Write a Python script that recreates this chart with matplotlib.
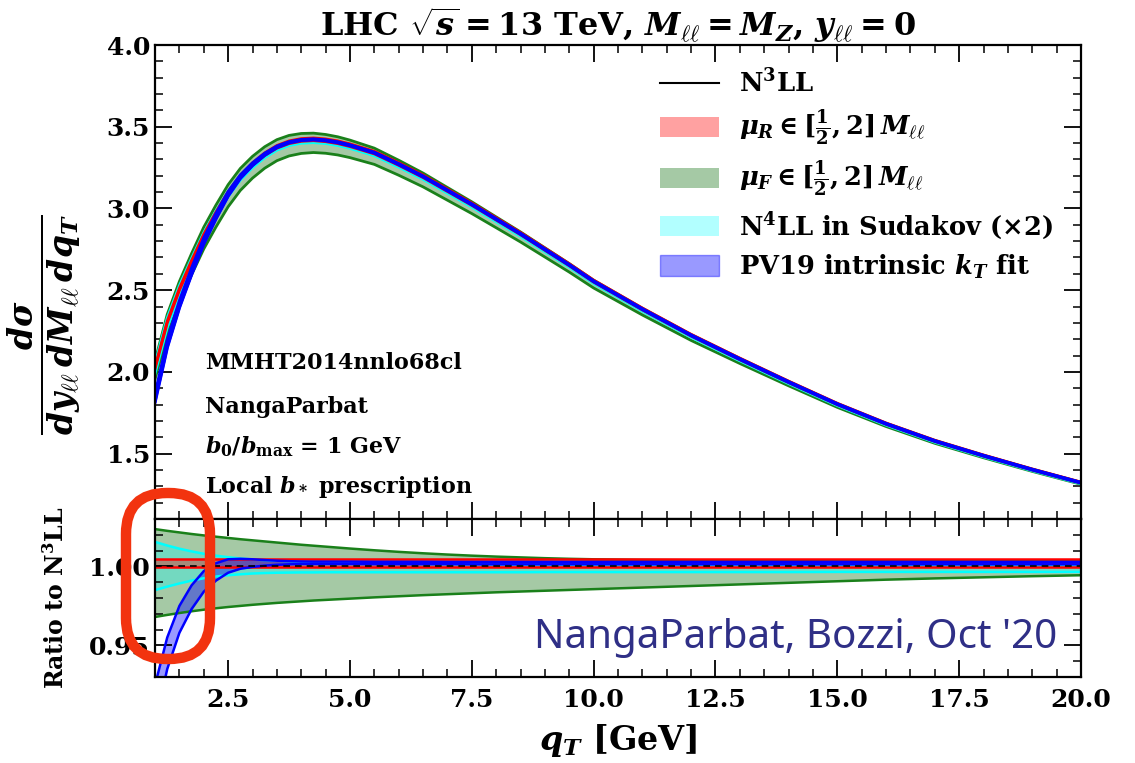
import numpy as np
import matplotlib
matplotlib.use("Agg")
import matplotlib.pyplot as plt
from matplotlib.ticker import MultipleLocator, FormatStrFormatter
from matplotlib.lines import Line2D
from matplotlib.patches import Patch, FancyBboxPatch

plt.rcParams['font.family'] = 'DejaVu Serif'
plt.rcParams['font.weight'] = 'bold'
plt.rcParams['axes.labelweight'] = 'bold'
plt.rcParams['axes.titleweight'] = 'bold'
plt.rcParams['mathtext.fontset'] = 'custom'
plt.rcParams['mathtext.rm'] = 'DejaVu Serif:bold'
plt.rcParams['mathtext.it'] = 'DejaVu Serif:italic:bold'
plt.rcParams['mathtext.bf'] = 'DejaVu Serif:bold'

# qT grid [GeV]
qt = [1.0, 1.25, 1.5, 1.75, 2.0, 2.25, 2.5, 2.75, 3.0, 3.25, 3.5, 3.75, 4.0, 4.25, 4.5, 4.75, 5.0,
      5.5, 6.0, 6.5, 7.0, 7.5, 8.0, 8.5, 9.0, 9.5, 10.0, 10.5, 11.0, 11.5, 12.0,
      13.0, 14.0, 15.0, 16.0, 17.0, 18.0, 19.0, 20.0]

# central N3LL cross section
n3ll = [2.02, 2.30, 2.50, 2.67, 2.83, 2.965, 3.09, 3.19, 3.265, 3.325, 3.37, 3.398, 3.412, 3.416, 3.41, 3.398, 3.38,
        3.335, 3.265, 3.19, 3.105, 3.02, 2.93, 2.84, 2.745, 2.65, 2.55, 2.465, 2.38, 2.30, 2.22,
        2.075, 1.935, 1.80, 1.68, 1.575, 1.485, 1.40, 1.32]

# ratios to N3LL: band edges
muR_up = [1.0045] * len(qt)
muR_lo = [0.9996] * len(qt)

muF_up = [1.0236, 1.0225, 1.0215, 1.0205, 1.0196, 1.0188, 1.018, 1.0172, 1.0165, 1.0158, 1.0151, 1.0144, 1.0137, 1.0131, 1.0125, 1.0119, 1.0113,
          1.0102, 1.0092, 1.0083, 1.0075, 1.0068, 1.0062, 1.0057, 1.0052, 1.0048, 1.0045, 1.0043, 1.0041, 1.004, 1.0039,
          1.0038, 1.0038, 1.0037, 1.0037, 1.0037, 1.0037, 1.0037, 1.0037]
muF_lo = [0.968, 0.9693, 0.9705, 0.9716, 0.9726, 0.9735, 0.9743, 0.975, 0.9757, 0.9763, 0.9769, 0.9774, 0.9779, 0.9784, 0.9788, 0.9792, 0.9796,
          0.9804, 0.9811, 0.9818, 0.9824, 0.983, 0.9836, 0.9841, 0.9846, 0.9851, 0.9856, 0.9861, 0.9866, 0.9871, 0.9876,
          0.9886, 0.9896, 0.9906, 0.9916, 0.9924, 0.9931, 0.9938, 0.9944]

n4ll_up = [1.0155, 1.0132, 1.0112, 1.0095, 1.008, 1.0068, 1.0058, 1.005, 1.0044, 1.004, 1.0036, 1.0033, 1.003, 1.0028, 1.0026, 1.0024, 1.0022,
           1.002, 1.0018, 1.0016, 1.0014, 1.0013, 1.0012, 1.0011, 1.001, 1.0009, 1.0008, 1.0008, 1.0007, 1.0007, 1.0006,
           1.0006, 1.0005, 1.0005, 1.0005, 1.0005, 1.0005, 1.0005, 1.0005]
n4ll_lo = [0.985, 0.9872, 0.9892, 0.991, 0.9925, 0.9936, 0.9944, 0.995, 0.9955, 0.9958, 0.996, 0.9961, 0.9962, 0.9962, 0.9963, 0.9963, 0.9963,
           0.9963, 0.9963, 0.9963, 0.9963, 0.9963, 0.9963, 0.9963, 0.9964, 0.9964, 0.9964, 0.9964, 0.9964, 0.9964, 0.9964,
           0.9964, 0.9964, 0.9965, 0.9965, 0.9965, 0.9965, 0.9965, 0.9965]

pv19_up = [0.925, 0.955, 0.975, 0.988, 0.997, 1.002, 1.0045, 1.0048, 1.0045, 1.004, 1.0036, 1.0033, 1.0031, 1.003, 1.003, 1.003, 1.003,
           1.0029, 1.0029, 1.0029, 1.0028, 1.0028, 1.0028, 1.0028, 1.0028, 1.0028, 1.0028, 1.0028, 1.0028, 1.0028, 1.0028,
           1.0028, 1.0028, 1.0028, 1.0028, 1.0028, 1.0028, 1.0028, 1.0028]
pv19_lo = [0.900, 0.935, 0.958, 0.973, 0.984, 0.991, 0.996, 0.9985, 0.9997, 1.0005, 1.001, 1.0013, 1.0015, 1.0015, 1.0015, 1.0015, 1.0015,
           1.0014, 1.0014, 1.0014, 1.0014, 1.0013, 1.0013, 1.0013, 1.0013, 1.0013, 1.0013, 1.0013, 1.0013, 1.0013, 1.0013,
           1.0013, 1.0013, 1.0013, 1.0013, 1.0013, 1.0013, 1.0013, 1.0013]

bands = [
    (muF_lo, muF_up, '#1f7a1f', 0.40, '#1a801a'),
    (n4ll_lo, n4ll_up, 'cyan', 0.30, 'cyan'),
    (muR_lo, muR_up, 'red', 0.37, 'red'),
    (pv19_lo, pv19_up, 'blue', 0.40, 'blue'),
]

x = np.array(qt)
central = np.array(n3ll)

fig = plt.figure(figsize=(11.35, 7.63), dpi=100)
ax = fig.add_axes([0.1366, 0.3198, 0.8158, 0.6212])
axr = fig.add_axes([0.1366, 0.1127, 0.8158, 0.2071], sharex=ax)

for lo, up, fc, a, ec in bands:
    lo = np.array(lo)
    up = np.array(up)
    ax.fill_between(x, central * lo, central * up, color=fc, alpha=a, lw=0)
    ax.plot(x, central * lo, color=ec, lw=2)
    ax.plot(x, central * up, color=ec, lw=2)
    axr.fill_between(x, lo, up, color=fc, alpha=a, lw=0)
    axr.plot(x, lo, color=ec, lw=1.8)
    axr.plot(x, up, color=ec, lw=1.8)
ax.plot(x, central * np.array(pv19_lo), color='blue', lw=2.5)
axr.plot(x, np.ones_like(x), color='black', lw=1.2, ls=(0, (4, 3)))

for a in (ax, axr):
    a.tick_params(which='both', direction='in', top=True, right=True, labelsize=18)
    a.tick_params(which='major', length=12, width=1.3)
    a.tick_params(which='minor', length=6, width=1.1)
    for s in a.spines.values():
        s.set_linewidth(1.6)
    a.xaxis.set_major_locator(MultipleLocator(2.5))
    a.xaxis.set_minor_locator(MultipleLocator(0.5))

ax.set_xlim(1, 20)
ax.set_ylim(1.1, 4.0)
ax.yaxis.set_major_locator(MultipleLocator(0.5))
ax.yaxis.set_minor_locator(MultipleLocator(0.1))
ax.yaxis.set_major_formatter(FormatStrFormatter('%.1f'))
ax.tick_params(labelbottom=False)

axr.set_ylim(0.93, 1.03)
axr.yaxis.set_major_locator(MultipleLocator(0.05))
axr.yaxis.set_minor_locator(MultipleLocator(0.01))
axr.yaxis.set_major_formatter(FormatStrFormatter('%.2f'))
axr.xaxis.set_major_formatter(FormatStrFormatter('%.1f'))
axr.tick_params(axis='x', which='major', pad=8)

ax.set_title(r'LHC $\sqrt{s}=13$ TeV, $M_{\ell\ell}=M_Z$, $y_{\ell\ell}=0$',
             fontsize=23, pad=6)
ax.set_ylabel(r'$\frac{d\sigma}{dy_{\ell\ell}\,dM_{\ell\ell}\,dq_T}$', fontsize=34)
ax.yaxis.set_label_coords(-0.078, 0.41)
axr.set_ylabel(r'Ratio to N$^3$LL', fontsize=17)
axr.yaxis.set_label_coords(-0.093, 0.5)
axr.set_xlabel(r'$q_T$ [GeV]', fontsize=24, labelpad=7)

handles = [
    Line2D([], [], color='black', lw=1.5),
    Patch(facecolor='red', alpha=0.37, edgecolor='none'),
    Patch(facecolor='#1f7a1f', alpha=0.40, edgecolor='none'),
    Patch(facecolor='cyan', alpha=0.30, edgecolor='none'),
    Patch(facecolor='blue', alpha=0.40, edgecolor='blue'),
]
labels = [
    r'N$^3$LL',
    r'$\mu_R \in [\frac{1}{2}, 2]\, M_{\ell\ell}$',
    r'$\mu_F \in [\frac{1}{2}, 2]\, M_{\ell\ell}$',
    r'N$^4$LL in Sudakov ($\times2$)',
    r'PV19 intrinsic $k_T$ fit',
]
ax.legend(handles, labels, loc='upper right', frameon=False, fontsize=18.5,
          handlelength=2.3, handleheight=0.85, labelspacing=0.42, handletextpad=0.8,
          bbox_to_anchor=(0.995, 0.998))

info = ['MMHT2014nnlo68cl', 'NangaParbat', r'$b_0/b_{\rm max}$ = 1 GeV', r'Local $b_*$ prescription']
info_y = [0.329, 0.236, 0.152, 0.0675]
for t, yy in zip(info, info_y):
    ax.text(0.054, yy, t, transform=ax.transAxes, fontsize=16, va='center', ha='left')

axr.text(0.974, 0.25, "NangaParbat, Bozzi, Oct '20", transform=axr.transAxes,
         fontsize=29, color='#2f2f86', family='Noto Sans', fontweight='normal',
         ha='right', va='center')

# hand-drawn style highlight around low-qT ratio region
hl = FancyBboxPatch((126, 104), 84, 166, boxstyle='round,pad=0,rounding_size=41',
                    transform=None, fill=False, edgecolor='#f2330f', lw=7.5,
                    zorder=20, clip_on=False)
fig.add_artist(hl)

fig.savefig('out.png', dpi=100)
